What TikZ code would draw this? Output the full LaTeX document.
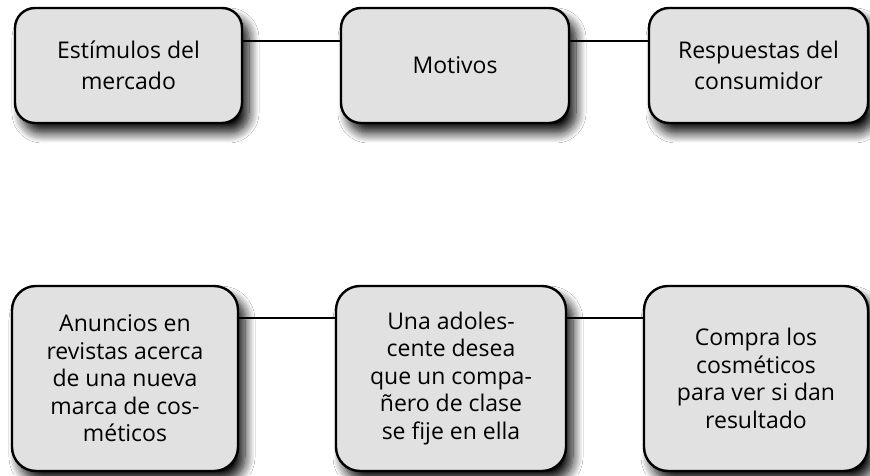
\documentclass[tikz,border=0pt]{standalone}
\usepackage{fontspec}
\setmainfont{Open Sans}
\usetikzlibrary{shadows.blur}
\definecolor{boxfill}{HTML}{E1E1E1}
\tikzset{
  cardbox/.style={draw=black, line width=2.4pt, fill=boxfill, rounded corners=20pt,
    align=center, inner sep=0pt, font=\fontsize{23}{30.5}\selectfont,
    blur shadow={shadow xshift=7pt, shadow yshift=-10pt, shadow blur radius=10pt, shadow blur steps=12, shadow opacity=95}},
  tallbox/.style={cardbox, rounded corners=24pt, font=\fontsize{23}{27.5}\selectfont},
  link/.style={draw=black, line width=1.6pt}
}
\begin{document}
\begin{tikzpicture}[x=1pt,y=1pt]
\useasboundingbox (0,0) rectangle (870,475);
\fill[white] (0,0) rectangle (870,475);
% top row
\node[cardbox, minimum width=227pt, minimum height=115pt] (b1) at (128.5,409.5) {Estímulos del\\mercado};
\node[cardbox, minimum width=228pt, minimum height=115pt] (b2) at (455,409.5) {Motivos};
\node[cardbox, minimum width=219pt, minimum height=115pt] (b3) at (758.5,409.5) {Respuestas del\\consumidor};
% bottom row
\node[tallbox, minimum width=226pt, minimum height=185pt] (c1) at (125,96.5) {Anuncios en\\revistas acerca\\de una nueva\\marca de cos-\\méticos};
\node[tallbox, minimum width=230pt, minimum height=185pt] (c2) at (451,96.5) {Una adoles-\\cente desea\\que un compa-\\ñero de clase\\se fije en ella};
\node[tallbox, minimum width=224pt, minimum height=185pt] (c3) at (756,96.5) {Compra los\\cosméticos\\para ver si dan\\resultado};
% connectors
\draw[link] ([yshift=-34pt]b1.north east) -- ([yshift=-34pt]b2.north west);
\draw[link] ([yshift=-34pt]b2.north east) -- ([yshift=-34pt]b3.north west);
\draw[link] ([yshift=-33pt]c1.north east) -- ([yshift=-33pt]c2.north west);
\draw[link] ([yshift=-33pt]c2.north east) -- ([yshift=-33pt]c3.north west);
\end{tikzpicture}
\end{document}
